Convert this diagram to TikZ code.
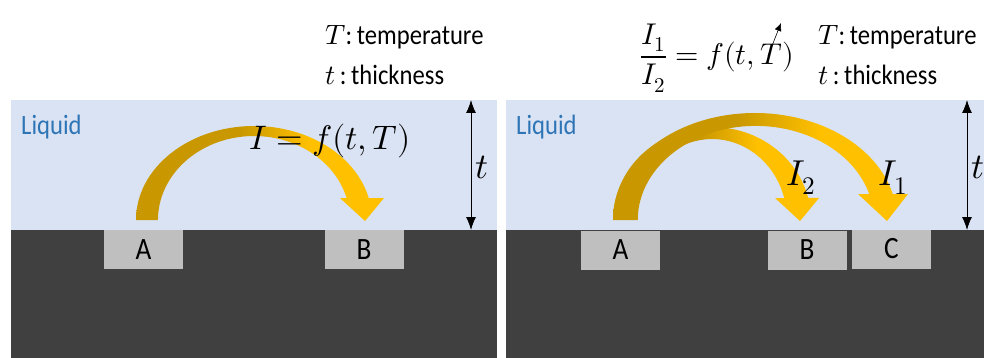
\documentclass[tikz,border=0pt]{standalone}
\usepackage{fontspec}
\usepackage{amsmath}
\usepackage{unicode-math}
\setmathfont{Latin Modern Math}
\setsansfont{Carlito}
\newfontfamily\condsans[FakeStretch=0.88]{Carlito}
\usetikzlibrary{arrows.meta}
\definecolor{liq}{HTML}{DAE3F3}
\definecolor{subst}{HTML}{404040}
\definecolor{padc}{HTML}{BFBFBF}
\definecolor{liqtxt}{HTML}{2E75B6}
\definecolor{dgold}{HTML}{C99800}
\definecolor{bgold}{HTML}{FFC000}
\pgfdeclarehorizontalshading{goldshade}{100bp}{color(0bp)=(dgold); color(46bp)=(dgold); color(60bp)=(bgold); color(100bp)=(bgold)}
\tikzset{
  padbox/.style={fill=padc, minimum width=79pt, minimum height=39pt, inner sep=0pt,
     font=\condsans\fontsize{31}{35}\selectfont, text=black},
  liqlabel/.style={anchor=west, inner sep=0pt, text=liqtxt, font=\condsans\fontsize{28}{32}\selectfont},
  legend/.style={anchor=west, inner sep=0pt, font=\condsans\fontsize{28}{32}\selectfont},
  bigmath/.style={inner sep=0pt, font=\fontsize{36}{42}\selectfont},
  thick arrow/.style={shading=goldshade},
  dimarrow/.style={line width=0.9pt, {Latex[length=13pt,width=10pt]}-{Latex[length=13pt,width=10pt]}}
}
\begin{document}
\begin{tikzpicture}[x=1pt,y=-1pt]
\useasboundingbox (0,0) rectangle (984,358);
\fill[white] (0,0) rectangle (984,358);
% ---------- left panel ----------
\fill[liq] (11,100) rectangle (497,230);
\fill[subst] (11,230) rectangle (497,358);
\node[padbox] (A1) at (143.5,249.5) {A};
\node[padbox] (B1) at (364,249.5) {B};
\node[liqlabel] (liq1) at (21,127) {Liquid};
\shade[thick arrow] (136,220) arc[start angle=180, end angle=346.5, x radius=118, y radius=94]
  -- (384,198) -- (365,221) -- (340,198) -- (346.6,198)
  arc[start angle=344.8, end angle=180, x radius=96, y radius=84] -- cycle;
\node[bigmath, font=\fontsize{34}{40}\selectfont] (eq1) at (330,141) {$I=f(t,T)$};
\node[legend] (T1) at (325,37) {$T$:\,temperature};
\node[legend] (t1) at (325,75) {$t$\,:\,thickness};
\coordinate (d1top) at (471,100);
\coordinate (d1bot) at (471,230);
\draw[dimarrow] (d1top) -- (d1bot);
\node[bigmath, anchor=west] (tl1) at (475,167) {$t$};
% ---------- right panel ----------
\fill[liq] (506,100) rectangle (984,230);
\fill[subst] (506,230) rectangle (984,358);
\node[padbox] (A2) at (620.5,250) {A};
\node[padbox] (B2) at (807,250) {B};
\node[padbox] (C2) at (891.5,249) {C};
\node[liqlabel] (liq2) at (516,127) {Liquid};
% arrow to B
\shade[thick arrow] (613,220) arc[start angle=180, end angle=346.2, x radius=99, y radius=93]
  -- (819,198) -- (800,221) -- (775,198) -- (784.2,198)
  arc[start angle=344.2, end angle=180, x radius=75, y radius=81] -- cycle;
% arrow to C
\shade[thick arrow] (613,220) arc[start angle=180, end angle=346, x radius=142, y radius=107]
  -- (908,194) -- (887,221) -- (858,194) -- (869.2,194)
  arc[start angle=344, end angle=180, x radius=118, y radius=94] -- cycle;
\node[bigmath, anchor=west] (I2) at (786,178) {$I_2$};
\node[bigmath, anchor=west] (I1) at (878,178) {$I_1$};
\node[bigmath, font=\fontsize{30}{36}\selectfont, anchor=west] (eq2) at (640,58) {$\dfrac{I_1}{I_2}=f(t,T)$};
\coordinate (mkA) at (768,56);
\coordinate (mkB) at (781,23);
\draw[line width=0.6pt, -{Latex[length=8pt,width=7pt]}] (mkA) -- (mkB);
\node[legend] (T2) at (818,37) {$T$:\,temperature};
\node[legend] (t2) at (818,75) {$t$\,:\,thickness};
\coordinate (d2top) at (967,100);
\coordinate (d2bot) at (967,230);
\draw[dimarrow] (d2top) -- (d2bot);
\node[bigmath, anchor=west] (tl2) at (971,167) {$t$};
\end{tikzpicture}
\end{document}
